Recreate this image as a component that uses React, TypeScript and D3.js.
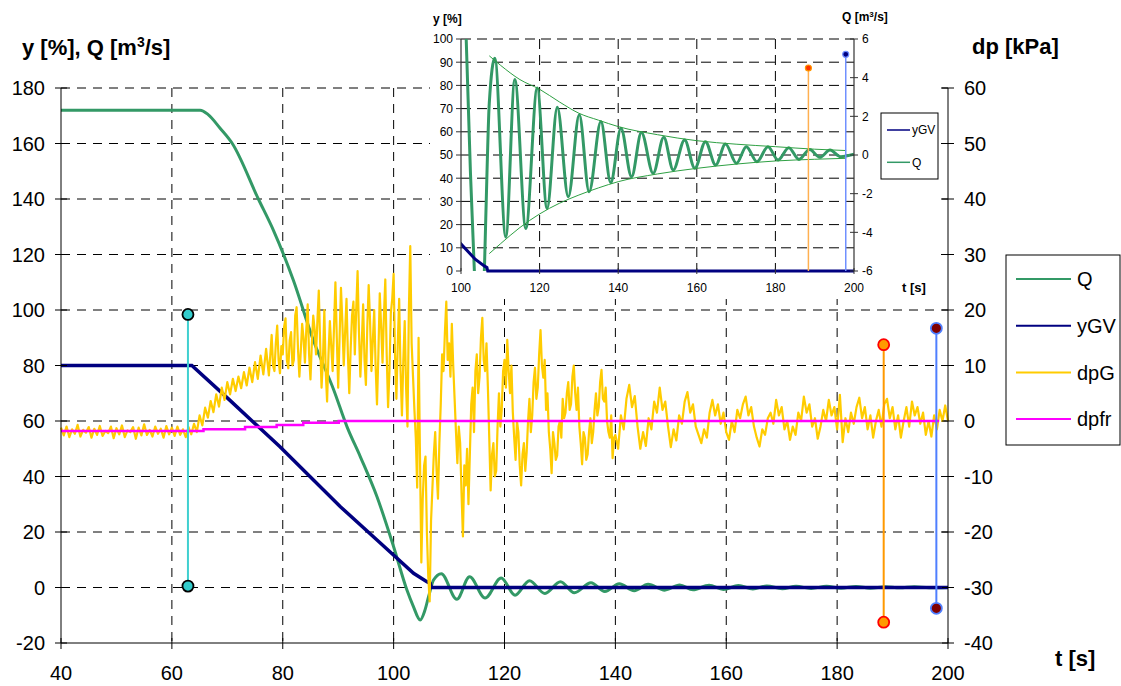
import React from 'react';
import * as d3 from 'd3';

const W = 1121;
const H = 686;
const FONT = '"Liberation Sans", Arial, Helvetica, sans-serif';

// ---------- tick labels ----------
const xTicks = [40, 60, 80, 100, 120, 140, 160, 180, 200];
const yLeftTicks = [-20, 0, 20, 40, 60, 80, 100, 120, 140, 160, 180];
const yRightTicks = [-40, -30, -20, -10, 0, 10, 20, 30, 40, 50, 60];
const insetXTicks = [100, 120, 140, 160, 180, 200];
const insetYTicks = [0, 10, 20, 30, 40, 50, 60, 70, 80, 90, 100];
const insetQTicks = [-6, -4, -2, 0, 2, 4, 6];

// ---------- series ----------
// Q [m3/s] (time of read points / value)
const qT = [40, 65.1, 66.5, 68.7, 70.9, 75.6, 78.3, 81.9, 85.5, 89.2, 91.6, 94.0, 97.0, 100.0, 102.4, 103.5, 104.8, 105.6, 106.3, 107.2,
  108.6, 111.4, 113.7, 116.5, 119.4, 121.9, 124.5, 127.3, 130.1, 132.6, 135.6, 138.1, 140.7, 143.4, 145.9, 148.9, 151.6, 154.0,
  156.9, 159.5, 162.2, 164.8, 167.3, 170.1, 172.6, 175.3, 178.1, 180.7, 183.4, 186.0, 188.7, 191.3, 193.9, 196.6, 200];
const qV = [172, 172, 170.5, 165.5, 160, 140, 128.8, 110.8, 89.2, 71.2, 57.9, 47.1, 32.7, 14.7, -0.9, -6.5, -11.7, -8.5, -3.3, 2.7,
  5.0, -4.24, 3.9, -3.8, 3.46, -2.77, 2.47, -2.16, 2.08, -1.9, 1.73, -1.43, 1.38, -1.13, 1.16, -0.95, 0.92, -0.78,
  0.78, -0.69, 0.69, -0.52, 0.57, -0.43, 0.43, -0.35, 0.43, -0.26, 0.38, -0.23, 0.29, -0.12, 0.26, -0.09, 0.04];

// yGV [%]
const yT = [40, 63.6, 69.9, 79.5, 90.4, 97.0, 103.6, 106.0, 106.6, 106.8, 200];
const yV = [80, 80, 68.5, 50.7, 29.1, 17.1, 5.1, 2.1, 1.5, 0, 0];

// dpfr [kPa] (steps)
const fT = [40, 65.7, 73.2, 78.9, 83.7, 90.1, 198.4];
const fV = [-1.8, -1.5, -1.1, -0.7, -0.3, 0, 0];

// dpG [kPa] — segment A: t = 40 … 77.5, every 0.5 s
const dpG40 = [-1.2, -2.6, -1.0, -2.9, -1.5, -2.3, -0.7, -2.8, -1.6, -2.1, -1.1, -3.0, -1.4, -2.5, -0.9, -2.7, -1.8, -2.2, -1.0, -3.1];
const dpG50 = [-1.3, -2.4, -0.8, -2.9, -1.7, -2.0, -1.1, -3.2, -1.2, -2.6, -0.6, -2.5, -1.6, -2.8, -1.0, -2.3, -1.4, -3.0, -0.9, -2.4];
const dpG60 = [-1.2, -2.7, -1.0, -2.5, -1.5, -2.9, -1.1, -2.4, -0.5, -2.0, 1.0, -0.8, 2.4, 0.6, 3.6, 1.6, 4.8, 2.6, 6.0, 3.8];
const dpG70 = [7.0, 4.8, 7.6, 5.4, 8.0, 5.9, 8.8, 6.4, 9.6, 7.0, 10.6, 7.6, 11.8, 8.4, 13.0, 8.2];
// segment B: t = 78 … 139.75, every 0.25 s
const dpG78 = [15.5, 10.0, 9.0, 14.0, 17.2, 11.0, 8.6, 13.5];
const dpG80 = [12.0, 17.0, 18.5, 11.0, 9.5, 14.5, 16.0, 10.0, 11.0, 19.0, 20.5, 13.0, 8.0, 12.5, 17.5, 15.0, 10.5, 16.5, 21.0, 12.0,
  7.5, 14.0, 19.0, 16.5, 12.0, 18.0, 23.5, 14.0, 6.0, 11.0, 20.0, 9.0, 3.5, 12.0, 18.0, 13.5, 9.0, 17.0, 25.0, 15.0];
const dpG90 = [6.0, 15.0, 24.0, 18.0, 10.0, 16.0, 22.0, 12.0, 5.0, 13.0, 19.0, 21.5, 12.0, 20.0, 27.0, 16.0, 8.0, 14.0, 21.0, 11.0,
  6.5, 17.0, 24.5, 18.0, 9.0, 14.5, 20.0, 10.0, 3.0, 12.0, 23.0, 17.0, 10.5, 19.0, 25.5, 12.0, 2.5, 9.0, 19.5, 22.0];
const dpG100 = [26.5, 12.0, 4.0, 14.0, 22.0, 9.0, 1.0, 11.0, 18.0, 6.0, -1.0, 20.0, 31.5, 14.0, 8.0, 2.0,
  -3.0, -12.0, 15.0, -6.0, -25.5, -14.0, -8.0, -6.4, -20.0, -28.0, -32.5, -18.0, -12.0, -6.0, -2.0, -9.0];
const dpG108 = [-14.0, -4.0, 3.0, 12.0, 9.0, 16.0, 21.5, 11.0];
const dpG110 = [14.0, 8.0, 17.5, 10.0, 4.0, -2.0, -7.6, -1.0, -4.0, -13.0, -20.8, -8.0, -11.6, -5.0, -15.0, -6.0, 3.0, 6.0, -2.0, 9.0,
  12.0, 5.0, 8.0, 15.0, 18.6, 11.0, 9.0, 14.0, 6.2, -3.0, -12.5, -6.0, -4.0, -10.0, -9.0, -1.0, 5.0, -1.0, 2.0, 9.0];
const dpG120 = [11.0, 6.0, 14.6, 9.0, 5.0, 10.0, 1.6, -3.0, -7.0, 0.0, -2.0, -8.0, -11.6, -6.0, -4.0, -9.0, -5.6, 0.0, 4.0, -2.0,
  1.0, 7.0, 9.6, 4.0, 6.0, 12.0, 16.4, 10.0, 7.8, 11.0, 2.0, 5.0, -2.0, -5.0, -9.4, -2.0, -4.0, -7.0, -6.2, -1.0];
const dpG130 = [0.0, -3.0, 4.0, 0.5, 1.5, 5.0, 7.0, 2.0, 3.0, 8.0, 10.0, 5.0, 2.0, 6.0, -1.0, -4.0, -7.8, -2.0, -3.0, -7.0,
  -6.0, -2.0, 0.5, -4.0, -2.0, 2.0, 5.0, 1.0, 2.5, 7.0, 9.2, 4.0, 3.5, 6.0, 0.0, -2.0, -3.0, 1.0, -6.7, -3.0];
// segment C: t = 140 … 200, every 0.5 s
const dpG140 = [-2.5, -5.0, 1.0, -1.5, 4.0, 6.5, 2.5, 4.5, -1.0, -5.0, -2.0, -4.5, 0.5, -1.5, 3.5, 1.5, 6.0, 2.0, 3.5, -1.0];
const dpG150 = [-4.7, -1.5, -3.5, 1.0, -0.5, 3.5, 5.2, 1.5, 3.0, -1.0, -2.5, -4.0, -1.5, -3.0, 1.5, 3.8, 1.0, 3.0, -0.5, 1.5];
const dpG160 = [-2.0, -3.4, 0.0, -2.0, 2.0, 0.5, 3.0, 4.4, 1.0, 2.5, -1.0, -3.0, -4.6, -1.5, -2.5, 0.5, 1.5, -0.5, 3.8, 1.0];
const dpG170 = [2.5, -1.5, 0.0, -3.4, -1.0, -2.5, 1.5, 0.0, 4.4, 1.5, 3.0, -1.0, 0.5, -3.2, -1.0, 2.0, 0.0, 3.8, 1.0, 2.5];
const dpG180 = [-1.5, 4.7, -3.8, 0.5, -2.0, 1.5, -0.5, 2.5, 4.2, 0.5, 2.5, -1.5, 1.0, -3.0, 0.0, 2.0, -1.0, 3.0, 4.0, 0.5];
const dpG190 = [2.5, -1.5, 1.0, -3.0, 0.0, 2.5, -1.0, 3.5, 1.0, 2.5, -0.5, 1.5, -2.5, 0.0, -2.8, 1.0, -1.5, 2.0, 0.0, 2.8];
const dpG200 = [0.0];

const dpGSegments = [
  { t0: 40, dt: 0.5, rows: [dpG40, dpG50, dpG60, dpG70] },
  { t0: 78, dt: 0.25, rows: [dpG78, dpG80, dpG90, dpG100, dpG108, dpG110, dpG120, dpG130] },
  { t0: 140, dt: 0.5, rows: [dpG140, dpG150, dpG160, dpG170, dpG180, dpG190, dpG200] },
];

// inset envelope of Q [m3/s]
const envT = [107.2, 110, 115, 120, 125, 130, 135, 140, 150, 160, 170, 180, 190, 198];
const envUp = [5.13, 4.65, 3.9, 3.4, 2.75, 2.16, 1.8, 1.47, 1.05, 0.74, 0.56, 0.43, 0.3, 0.23];
const envLo = [-5.1, -4.6, -3.75, -3.05, -2.5, -2.07, -1.7, -1.38, -0.98, -0.69, -0.47, -0.31, -0.22, -0.17];

// cursors (left-axis units)
const markerT = [62.9, 188.4, 197.9];
const markerTop = [98.4, 87.5, 93.4];
const markerBot = [0.5, -12.5, -7.5];

const legendNames = ['Q', 'yGV', 'dpG', 'dpfr'];
const insetLegendNames = ['yGV', 'Q'];

// ---------- styles ----------
const C_Q = '#339966';
const C_Y = '#000080';
const C_G = '#FFCC00';
const C_F = '#FF00FF';
const C_ENV = '#2EA043';
const legendColors = [C_Q, C_Y, C_G, C_F];
const insetLegendColors = [C_Y, C_Q];
const markerStyle = [
  { line: '#40D0D0', fill: '#33CCCC', stroke: '#000000', iLine: '#40D0D0', iFill: '#33CCCC', iStroke: '#000' },
  { line: '#FF9900', fill: '#FF9900', stroke: '#FF0000', iLine: '#FFB050', iFill: '#FF3300', iStroke: '#FF9900' },
  { line: '#4F7FFF', fill: '#800000', stroke: '#4F7FFF', iLine: '#7090FF', iFill: '#000080', iStroke: '#6C8CFF' },
];

export default function App() {
  const x = d3.scaleLinear().domain([40, 200]).range([61, 948]);
  const yL = d3.scaleLinear().domain([-20, 180]).range([643, 88]);
  const yR = d3.scaleLinear().domain([-40, 60]).range([643, 88]);

  const ix = d3.scaleLinear().domain([100, 200]).range([461, 854]);
  const iyL = d3.scaleLinear().domain([0, 100]).range([271, 39]);
  const iyR = d3.scaleLinear().domain([-6, 6]).range([271, 39]);

  const qPts: [number, number][] = qT.map((t, i) => [t, qV[i]]);
  const yPts: [number, number][] = yT.map((t, i) => [t, yV[i]]);
  const fPts: [number, number][] = fT.map((t, i) => [t, fV[i]]);
  const gPts: [number, number][] = [];
  dpGSegments.forEach(seg => {
    seg.rows.flat().forEach((v, i) => gPts.push([seg.t0 + i * seg.dt, v]));
  });

  const qPath = d3.line<[number, number]>().x(d => x(d[0])).y(d => yL(d[1])).curve(d3.curveMonotoneX)(qPts) || '';
  const yPath = d3.line<[number, number]>().x(d => x(d[0])).y(d => yL(d[1]))(yPts) || '';
  const gPath = d3.line<[number, number]>().x(d => x(d[0])).y(d => yR(d[1]))(gPts) || '';
  const fPath = d3.line<[number, number]>().x(d => x(d[0])).y(d => yR(d[1])).curve(d3.curveStepAfter)(fPts) || '';

  const iqPath = d3.line<[number, number]>().x(d => ix(d[0])).y(d => iyR(d[1])).curve(d3.curveMonotoneX)(qPts.filter(d => d[0] >= 95)) || '';
  const iyPath = d3.line<[number, number]>().x(d => ix(d[0])).y(d => iyL(d[1]))(yPts.filter(d => d[0] >= 97)) || '';
  const envLine = d3.line<[number, number]>().x(d => ix(d[0])).y(d => iyR(d[1])).curve(d3.curveMonotoneX);
  const envUpPath = envLine(envT.map((t, i) => [t, envUp[i]] as [number, number])) || '';
  const envLoPath = envLine(envT.map((t, i) => [t, envLo[i]] as [number, number])) || '';

  const dash = '9,7';
  const idash = '10,6';

  return (
    <svg width={W} height={H} style={{ position: 'absolute', left: 0, top: 0, background: '#fff' }} fontFamily={FONT}>
      <defs>
        <clipPath id="insetClip">
          <rect x={461} y={39} width={393} height={232} />
        </clipPath>
        <clipPath id="insetClipY">
          <rect x={461} y={30} width={393} height={250} />
        </clipPath>
      </defs>
      <rect x={0} y={0} width={W} height={H} fill="#fff" />

      {/* main gridlines */}
      {yLeftTicks.filter(v => v > -20).map(v => (
        <line key={'gy' + v} x1={61} x2={948} y1={yL(v)} y2={yL(v)} stroke="#000" strokeWidth={1} strokeDasharray={dash} />
      ))}
      {xTicks.filter(v => v > 40 && v < 200).map(v => (
        <line key={'gx' + v} x1={x(v)} x2={x(v)} y1={88} y2={643} stroke="#000" strokeWidth={1} strokeDasharray={dash} />
      ))}

      {/* series */}
      <path d={qPath} fill="none" stroke={C_Q} strokeWidth={3} />
      <path d={yPath} fill="none" stroke={C_Y} strokeWidth={3.5} />
      <path d={gPath} fill="none" stroke={C_G} strokeWidth={2.2} strokeLinejoin="round" />
      <path d={fPath} fill="none" stroke={C_F} strokeWidth={2.5} />

      {/* cursors */}
      {markerT.map((t, i) => (
        <g key={'m' + i}>
          <line x1={x(t)} x2={x(t)} y1={yL(markerTop[i])} y2={yL(markerBot[i])} stroke={markerStyle[i].line} strokeWidth={2} />
          <circle cx={x(t)} cy={yL(markerTop[i])} r={5.5} fill={markerStyle[i].fill} stroke={markerStyle[i].stroke} strokeWidth={1.8} />
          <circle cx={x(t)} cy={yL(markerBot[i])} r={5.5} fill={markerStyle[i].fill} stroke={markerStyle[i].stroke} strokeWidth={1.8} />
        </g>
      ))}

      {/* main axes */}
      <line x1={61} x2={61} y1={88} y2={643} stroke="#000" strokeWidth={1} />
      <line x1={948} x2={948} y1={88} y2={643} stroke="#000" strokeWidth={1} />
      <line x1={61} x2={948} y1={643} y2={643} stroke="#000" strokeWidth={1} />
      {yLeftTicks.map(v => (
        <g key={'ly' + v}>
          <line x1={55} x2={67} y1={yL(v)} y2={yL(v)} stroke="#000" />
          <text x={45} y={yL(v)} dy="0.36em" textAnchor="end" fontSize={20}>{v}</text>
        </g>
      ))}
      {yRightTicks.map(v => (
        <g key={'ry' + v}>
          <line x1={942} x2={954} y1={yR(v)} y2={yR(v)} stroke="#000" />
          <text x={964} y={yR(v)} dy="0.36em" textAnchor="start" fontSize={20}>{v}</text>
        </g>
      ))}
      {xTicks.map(v => (
        <g key={'bx' + v}>
          <line x1={x(v)} x2={x(v)} y1={638} y2={649} stroke="#000" />
          <text x={x(v)} y={680} textAnchor="middle" fontSize={20}>{v}</text>
        </g>
      ))}

      {/* titles */}
      <text x={22} y={55} fontSize={22} fontWeight="bold">
        y [%], Q [m<tspan dy={-8} fontSize={14}>3</tspan><tspan dy={8}>/s]</tspan>
      </text>
      <text x={972} y={54} fontSize={22} fontWeight="bold">dp [kPa]</text>
      <text x={1055} y={666} fontSize={22} fontWeight="bold">t [s]</text>

      {/* main legend */}
      <rect x={1006} y={255} width={114} height={190} fill="#fff" stroke="#000" strokeWidth={1} />
      {legendNames.map((n, i) => {
        const ly = 279 + i * 46.7;
        return (
          <g key={'lg' + n}>
            <line x1={1016} x2={1071} y1={ly} y2={ly} stroke={legendColors[i]} strokeWidth={2} />
            <text x={1077} y={ly} dy="0.36em" fontSize={20}>{n}</text>
          </g>
        );
      })}

      {/* inset */}
      <rect x={430} y={0} width={510} height={299} fill="#fff" />
      {insetYTicks.filter(v => v > 0).map(v => (
        <line key={'igy' + v} x1={461} x2={854} y1={iyL(v)} y2={iyL(v)} stroke="#000" strokeWidth={1} strokeDasharray={idash} />
      ))}
      {insetXTicks.filter(v => v > 100 && v < 200).map(v => (
        <line key={'igx' + v} x1={ix(v)} x2={ix(v)} y1={39} y2={271} stroke="#000" strokeWidth={1} strokeDasharray={idash} />
      ))}
      <g clipPath="url(#insetClip)">
        <path d={iqPath} fill="none" stroke={C_Q} strokeWidth={3} />
        <path d={envUpPath} fill="none" stroke={C_ENV} strokeWidth={1} />
        <path d={envLoPath} fill="none" stroke={C_ENV} strokeWidth={1} />
      </g>
      <g clipPath="url(#insetClipY)">
        <path d={iyPath} fill="none" stroke={C_Y} strokeWidth={3} />
      </g>
      {markerT.map((t, i) => (t >= 100 && t <= 200) ? (
        <g key={'im' + i}>
          <line x1={ix(t)} x2={ix(t)} y1={iyL(markerTop[i])} y2={iyL(Math.max(0, markerBot[i]))} stroke={markerStyle[i].iLine} strokeWidth={1.5} />
          <circle cx={ix(t)} cy={iyL(markerTop[i])} r={3} fill={markerStyle[i].iFill} stroke={markerStyle[i].iStroke} strokeWidth={1.2} />
        </g>
      ) : null)}
      <line x1={461} x2={461} y1={39} y2={271} stroke="#333" strokeWidth={1.2} />
      <line x1={854} x2={854} y1={39} y2={271} stroke="#333" strokeWidth={1.2} />
      {insetYTicks.map(v => (
        <g key={'iyt' + v}>
          <line x1={456} x2={461} y1={iyL(v)} y2={iyL(v)} stroke="#333" />
          <text x={453} y={iyL(v)} dy="0.36em" textAnchor="end" fontSize={12}>{v}</text>
        </g>
      ))}
      {insetQTicks.map(v => (
        <g key={'iqt' + v}>
          <line x1={850} x2={858} y1={iyR(v)} y2={iyR(v)} stroke="#333" />
          <text x={862} y={iyR(v)} dy="0.36em" textAnchor="start" fontSize={12}>{v}</text>
        </g>
      ))}
      {insetXTicks.map(v => (
        <g key={'ixt' + v}>
          <line x1={ix(v)} x2={ix(v)} y1={268} y2={274} stroke="#333" />
          <text x={ix(v)} y={292} textAnchor="middle" fontSize={12}>{v}</text>
        </g>
      ))}
      <text x={433} y={23} fontSize={12} fontWeight="bold">y [%]</text>
      <text x={842} y={21} fontSize={12} fontWeight="bold">
        Q [m<tspan dy={-4} fontSize={8}>3</tspan><tspan dy={4}>/s]</tspan>
      </text>
      <text x={902} y={292} fontSize={13} fontWeight="bold">t [s]</text>
      <rect x={881} y={113} width={57} height={66} fill="#fff" stroke="#000" strokeWidth={1} />
      {insetLegendNames.map((n, i) => {
        const ly = 130 + i * 32.3;
        return (
          <g key={'ilg' + n}>
            <line x1={887} x2={910} y1={ly} y2={ly} stroke={insetLegendColors[i]} strokeWidth={1.5} />
            <text x={912} y={ly} dy="0.36em" fontSize={12}>{n}</text>
          </g>
        );
      })}
    </svg>
  );
}
